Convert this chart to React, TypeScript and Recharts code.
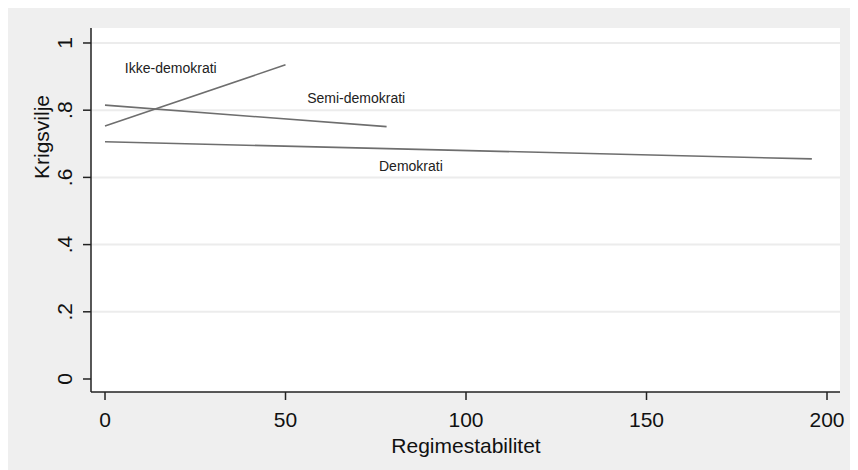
import React from 'react';
import { CartesianGrid, Label, Line, LineChart, ReferenceDot, ReferenceLine, XAxis, YAxis } from 'recharts';

// regime stability (x) vs. predicted war willingness (y), one straight fit per regime type
const ikkeX = [0, 50];
const ikkeY = [0.753, 0.935];
const semiX = [0, 78];
const semiY = [0.815, 0.751];
const demoX = [0, 195.8];
const demoY = [0.706, 0.655];

const seriesNames = ['Ikke-demokrati', 'Semi-demokrati', 'Demokrati'];
// where each series name is written (data coords: left edge, baseline)
const labelX = [5.5, 56, 75.9];
const labelY = [0.911, 0.821, 0.619];

const xTicks = [0, 50, 100, 150, 200];
const yTicks = [0, 0.2, 0.4, 0.6, 0.8, 1];
const yTickText = ['0', '.2', '.4', '.6', '.8', '1'];
const gridValues = [0.2, 0.4, 0.6, 0.8, 1];

const toRows = (xs: number[], ys: number[]) => xs.map((x, i) => ({ x, y: ys[i] }));
const series = [toRows(ikkeX, ikkeY), toRows(semiX, semiY), toRows(demoX, demoY)];

const FONT = '"Liberation Sans", Arial, sans-serif';

const XTick = ({ x, payload }: any) => (
  <text x={x} y={419} textAnchor="middle" fontSize={21} fontFamily={FONT} fill="#111">
    {payload.value}
  </text>
);

const YTick = ({ y, payload }: any) => {
  const idx = yTicks.indexOf(payload.value);
  return (
    <g transform={`translate(64,${y}) rotate(-90)`}>
      <text x={0} y={0} textAnchor="middle" fontSize={21} fontFamily={FONT} fill="#111">
        {idx >= 0 ? yTickText[idx] : payload.value}
      </text>
    </g>
  );
};

export default function App() {
  return (
    <div style={{ width: 850, height: 462, background: '#efefef' }}>
      <LineChart width={850} height={462} margin={{ top: 20, right: 18, left: 0, bottom: 0 }}>
        <CartesianGrid horizontal={false} vertical={false} fill="#ffffff" stroke="none" />
        {gridValues.map((v) => (
          <ReferenceLine key={`g-${v}`} y={v} stroke="#ececec" strokeWidth={2} />
        ))}
        <XAxis
          type="number"
          dataKey="x"
          domain={[-3.88, 203.6]}
          ticks={xTicks}
          allowDataOverflow
          height={78}
          tickSize={8}
          axisLine={{ stroke: '#222', strokeWidth: 1.5 }}
          tickLine={{ stroke: '#222', strokeWidth: 1.5 }}
          tick={<XTick />}
        >
          <Label
            content={() => (
              <text x={458} y={445} textAnchor="middle" fontSize={21} fontFamily={FONT} fill="#111">
                Regimestabilitet
              </text>
            )}
          />
        </XAxis>
        <YAxis
          type="number"
          domain={[-0.0387, 1.0446]}
          ticks={yTicks}
          allowDataOverflow
          width={83}
          tickSize={8}
          axisLine={{ stroke: '#222', strokeWidth: 1.5 }}
          tickLine={{ stroke: '#222', strokeWidth: 1.5 }}
          tick={<YTick />}
        >
          <Label
            content={() => (
              <g transform="translate(41,129) rotate(-90)">
                <text x={0} y={0} textAnchor="middle" fontSize={21} fontFamily={FONT} fill="#111">
                  Krigsvilje
                </text>
              </g>
            )}
          />
        </YAxis>
        {series.map((rows, i) => (
          <Line
            key={seriesNames[i]}
            data={rows}
            dataKey="y"
            type="linear"
            stroke="#6e6e6e"
            strokeWidth={1.6}
            dot={false}
            activeDot={false}
            isAnimationActive={false}
          />
        ))}
        {seriesNames.map((name, i) => (
          <ReferenceDot
            key={`lbl-${name}`}
            x={labelX[i]}
            y={labelY[i]}
            r={0}
            stroke="none"
            fill="none"
            label={(p: any) => {
              const vb = p.viewBox || {};
              return (
                <text x={vb.x} y={vb.y} fontSize={14} fontFamily={FONT} fill="#222">
                  {name}
                </text>
              );
            }}
          />
        ))}
      </LineChart>
    </div>
  );
}
